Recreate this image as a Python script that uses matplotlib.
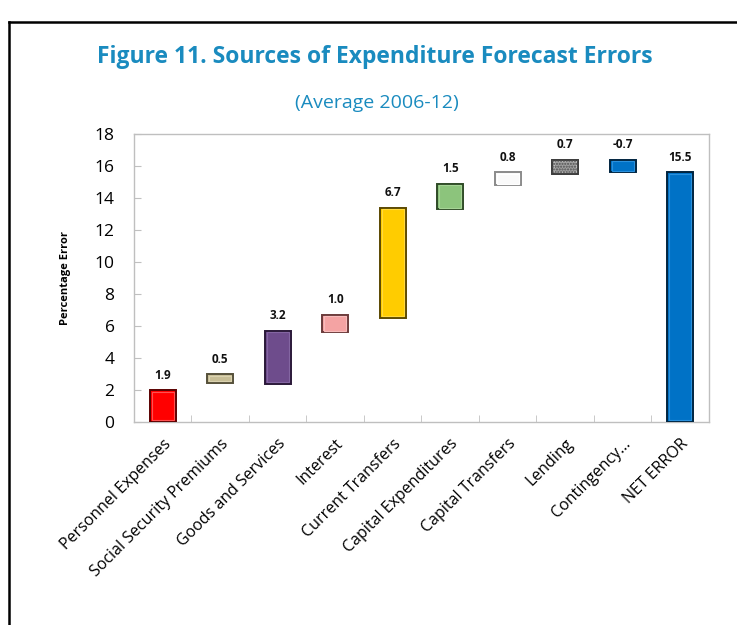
import matplotlib
matplotlib.use("Agg")
import matplotlib.pyplot as plt
from matplotlib.lines import Line2D

plt.rcParams['font.family'] = ['Open Sans', 'DejaVu Sans']

# waterfall data
categories = ["Personnel Expenses", "Social Security Premiums", "Goods and Services",
              "Interest", "Current Transfers", "Capital Expenditures",
              "Capital Transfers", "Lending", "Contingency...", "NET ERROR"]
value_labels = ["1.9", "0.5", "3.2", "1.0", "6.7", "1.5", "0.8", "0.7", "-0.7", "15.5"]
bottoms = [0.0, 2.45, 2.4, 5.6, 6.5, 13.3, 14.8, 15.5, 15.6, 0.0]
tops = [2.0, 3.0, 5.7, 6.7, 13.4, 14.9, 15.6, 16.4, 16.4, 15.6]

face_colors = ["#FF0000", "#C8BE96", "#6E4C8C", "#F4A3A3", "#FFCC00",
               "#8CC47C", "#FAFAFA", "#A0A0A0", "#0072C6", "#0072C6"]
edge_colors = ["#5A0000", "#55503A", "#2A1838", "#6A3A3A", "#5A4800",
               "#2E4A26", "#8A8A8A", "#3A3A3A", "#00243F", "#00243F"]
hi_colors = ["#FF5050", "#DAD2B0", "#8466A2", "#F8BCBC", "#FFDA40",
             "#A6D496", "#FFFFFF", "#BEBEBE", "#2A90DC", "#2A90DC"]

title_blue = "#1A8BBF"

fig = plt.figure(figsize=(7.37, 6.25), dpi=100)
ax = fig.add_axes([0.1818, 0.3248, 0.7802, 0.4608])

x = list(range(len(categories)))
heights = [t - b for t, b in zip(tops, bottoms)]
w = 0.45

# outer bar with dark edge
ax.bar(x, heights, width=w, bottom=bottoms, color=face_colors,
       edgecolor=edge_colors, linewidth=1.4, zorder=3)
# inner bevel highlight
inset_y = 0.1
inner_h = [max(h - 2 * inset_y, 0.05) for h in heights]
inner_b = [b + inset_y for b in bottoms]
ax.bar(x, inner_h, width=w * 0.84, bottom=inner_b, color=face_colors,
       edgecolor=hi_colors, linewidth=0.8, zorder=4)
# dotted texture on Lending
ax.bar([x[7]], [heights[7]], width=w, bottom=[bottoms[7]], color="none",
       edgecolor="#505050", hatch="......", linewidth=0, zorder=5)

for xi, t, lab in zip(x, tops, value_labels):
    ax.annotate(lab, (xi, t), xytext=(0, 6), textcoords="offset points",
                ha="center", va="bottom", fontsize=8.5, fontweight="bold",
                color="#111111")

ax.set_xlim(-0.5, len(categories) - 0.5)
ax.set_ylim(0, 18)
ax.set_yticks(range(0, 19, 2))
ax.set_xticks([i + 0.5 for i in x[:-1]], minor=True)
ax.set_xticks(x)
ax.set_xticklabels(categories, rotation=45, ha="right", rotation_mode="anchor",
                   fontsize=11.5)
ax.tick_params(axis="x", which="major", length=0, pad=10)
ax.tick_params(axis="x", which="minor", direction="in", length=5, color="#C0C0C0")
ax.tick_params(axis="y", direction="in", length=5, color="#C0C0C0", labelsize=12.5,
               pad=14)
for s in ax.spines.values():
    s.set_color("#BFBFBF")
    s.set_linewidth(1.0)

ax.set_ylabel("Percentage Error", fontsize=8, fontweight="bold", labelpad=17)

fig.text(0.509, 0.909, "Figure 11. Sources of Expenditure Forecast Errors",
         ha="center", va="center", fontsize=16.5, fontweight="bold", color=title_blue)
fig.text(0.5115, 0.835, "(Average 2006-12)", ha="center", va="center",
         fontsize=14, color=title_blue)

# outer frame (left and top)
fig.add_artist(Line2D([0.012, 0.012], [0.0, 0.965], color="black", lw=1.8,
                      transform=fig.transFigure))
fig.add_artist(Line2D([0.012, 1.0], [0.965, 0.965], color="black", lw=1.8,
                      transform=fig.transFigure))

fig.savefig("out.png", dpi=100)
